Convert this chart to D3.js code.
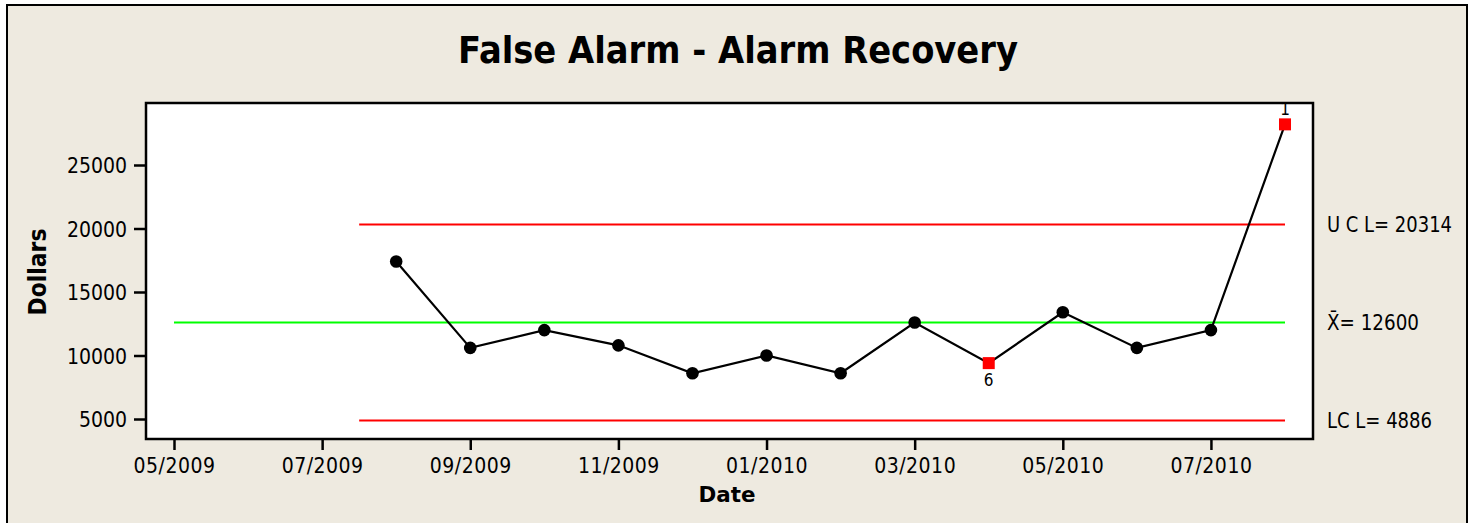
<!DOCTYPE html>
<html>
<head>
<meta charset="utf-8">
<script src="https://cdn.jsdelivr.net/npm/d3@7"></script>
<style>
  html, body { margin: 0; padding: 0; background: #ffffff; }
  svg { display: block; }
  text { font-family: "DejaVu Sans Condensed", "DejaVu Sans", sans-serif; fill: #000; }
</style>
</head>
<body>
<svg id="chart" width="1476" height="523"></svg>
<script>
// ---- Data ----
const months = ["08/2009","09/2009","10/2009","11/2009","12/2009","01/2010","02/2010","03/2010","04/2010","05/2010","06/2010","07/2010","08/2010"];
const monthIndex = [3,4,5,6,7,8,9,10,11,12,13,14,15]; // months since 05/2009
const dollars = [17400,10600,12000,10800,8600,10000,8600,12600,9400,13400,10600,12000,28200];
const flags = ["","","","","","","","","6","","","","1"]; // failed test labels
const xTickIndex = [0,2,4,6,8,10,12,14];
const xTickLabels = ["05/2009","07/2009","09/2009","11/2009","01/2010","03/2010","05/2010","07/2010"];
const yTicks = [5000,10000,15000,20000,25000];
const UCL = 20314, MEAN = 12600, LCL = 4886;
const limitsStartIndex = 2.5, meanStartIndex = 0, limitsEndIndex = 15;

// ---- Layout ----
const svg = d3.select("#chart");
const pL = 146, pR = 1313, pT = 103, pB = 439;
const FONT = '"DejaVu Sans Condensed", "DejaVu Sans", sans-serif';

svg.append("rect").attr("x", 7).attr("y", 5).attr("width", 1460).attr("height", 530)
  .attr("fill", "#EEEAE0").attr("stroke", "#000").attr("stroke-width", 2);

const x = d3.scaleLinear().domain([-0.378, 15.378]).range([pL, pR]);
const y = d3.scaleLinear().domain([3425, 29882]).range([pB, pT]);

svg.append("rect").attr("x", pL).attr("y", pT).attr("width", pR - pL).attr("height", pB - pT)
  .attr("fill", "#fff");

// Title
svg.append("text").attr("x", 738).attr("y", 63).attr("text-anchor", "middle")
  .attr("font-size", 38).attr("font-weight", "bold")
  .attr("textLength", 560).attr("lengthAdjust", "spacingAndGlyphs")
  .text("False Alarm - Alarm Recovery");

// Axes
const xAxis = d3.axisBottom(x).tickValues(xTickIndex).tickFormat((d, i) => xTickLabels[i]).tickSize(11).tickSizeOuter(0);
const gx = svg.append("g").attr("transform", `translate(0,${pB})`).call(xAxis);
gx.attr("font-size", null).attr("font-family", null);
gx.select(".domain").remove();
gx.selectAll(".tick line").attr("stroke", "#000").attr("stroke-width", 2.5);
gx.selectAll(".tick text").attr("dy", 0).attr("y", 34)
  .style("font-size", "21px").style("font-family", FONT).style("letter-spacing", "0.5px").attr("fill", "#000");

const yAxis = d3.axisLeft(y).tickValues(yTicks).tickFormat(d3.format("d")).tickSize(12).tickSizeOuter(0);
const gy = svg.append("g").attr("transform", `translate(${pL},0)`).call(yAxis);
gy.attr("font-size", null).attr("font-family", null);
gy.select(".domain").remove();
gy.selectAll(".tick line").attr("stroke", "#000").attr("stroke-width", 2.5);
gy.selectAll(".tick text").attr("x", -19).attr("dy", "0.36em")
  .style("font-size", "21px").style("font-family", FONT).attr("fill", "#000");

// Axis titles
svg.append("text").attr("transform", "translate(46,272) rotate(-90)").attr("text-anchor", "middle")
  .attr("font-size", 24).attr("font-weight", "bold")
  .attr("textLength", 87).attr("lengthAdjust", "spacingAndGlyphs").text("Dollars");
svg.append("text").attr("x", 727).attr("y", 502).attr("text-anchor", "middle")
  .attr("font-size", 22).attr("font-weight", "bold")
  .attr("textLength", 57).attr("lengthAdjust", "spacingAndGlyphs").text("Date");

// Control lines
svg.append("clipPath").attr("id", "plotclip").append("rect")
  .attr("x", pL).attr("y", pT).attr("width", pR - pL).attr("height", pB - pT);
const plot = svg.append("g").attr("clip-path", "url(#plotclip)");

plot.append("line").attr("x1", x(meanStartIndex)).attr("x2", x(limitsEndIndex))
  .attr("y1", y(MEAN)).attr("y2", y(MEAN)).attr("stroke", "#00FF00").attr("stroke-width", 2);
[UCL, LCL].forEach(v => {
  plot.append("line").attr("x1", x(limitsStartIndex)).attr("x2", x(limitsEndIndex))
    .attr("y1", y(v)).attr("y2", y(v)).attr("stroke", "#FF0000").attr("stroke-width", 2);
});

// Data line
const pts = monthIndex.map((m, i) => ({m, v: dollars[i], f: flags[i], label: months[i]}));
plot.append("path").datum(pts)
  .attr("d", d3.line().x(d => x(d.m)).y(d => y(d.v)))
  .attr("fill", "none").attr("stroke", "#000").attr("stroke-width", 2.2);

plot.selectAll("circle.pt").data(pts.filter(d => !d.f)).enter().append("circle")
  .attr("class", "pt").attr("cx", d => x(d.m)).attr("cy", d => y(d.v)).attr("r", 6.3).attr("fill", "#000");

plot.selectAll("rect.flag").data(pts.filter(d => d.f)).enter().append("rect")
  .attr("class", "flag").attr("x", d => x(d.m) - 6).attr("y", d => y(d.v) - 6)
  .attr("width", 12).attr("height", 12).attr("fill", "#FF0000");

plot.selectAll("text.flagtxt").data(pts.filter(d => d.f)).enter().append("text")
  .attr("class", "flagtxt").attr("x", d => x(d.m)).attr("text-anchor", "middle")
  .attr("y", d => d.v > MEAN ? y(d.v) - 9 : y(d.v) + 23)
  .attr("font-size", 17).text(d => d.f);

// Plot border
svg.append("rect").attr("x", pL).attr("y", pT).attr("width", pR - pL).attr("height", pB - pT)
  .attr("fill", "none").attr("stroke", "#000").attr("stroke-width", 2.5);

// Right labels
const rl = svg.append("g").attr("font-size", 22);
rl.append("text").attr("x", 1327).attr("y", y(UCL)).attr("dy", "0.36em")
  .attr("textLength", 125).attr("lengthAdjust", "spacingAndGlyphs").text("U C L= " + UCL);
rl.append("text").attr("x", 1327).attr("y", y(MEAN)).attr("dy", "0.36em")
  .attr("textLength", 92).attr("lengthAdjust", "spacingAndGlyphs").text("X\u0304= " + MEAN);
rl.append("text").attr("x", 1327).attr("y", y(LCL)).attr("dy", "0.36em")
  .attr("textLength", 105).attr("lengthAdjust", "spacingAndGlyphs").text("LC L= " + LCL);
</script>
</body>
</html>
